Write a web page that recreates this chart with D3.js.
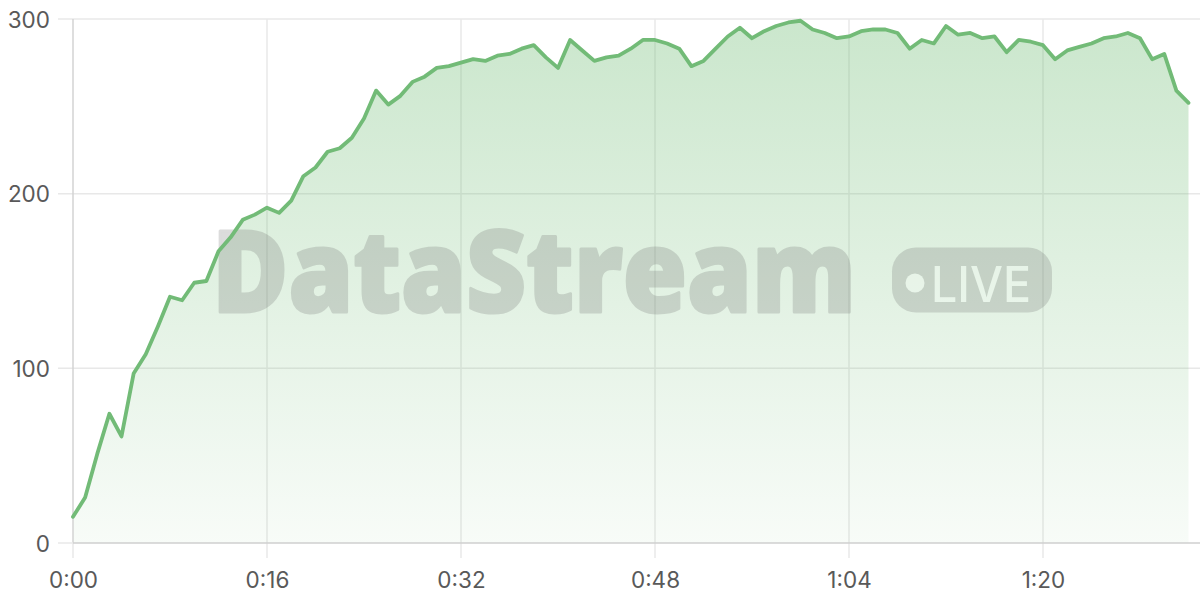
<!DOCTYPE html>
<html>
<head>
<meta charset="utf-8">
<script src="https://cdn.jsdelivr.net/npm/d3@7"></script>
<style>
  html, body { margin: 0; padding: 0; background: #ffffff; }
  svg { display: block; }
</style>
</head>
<body>
<svg id="chart" width="1200" height="600"></svg>
<script>
// ---- data ----
const seconds = d3.range(0, 93);
const values = [
  15, 26, 51, 74, 61, 97, 108, 124, 141, 139,
  149, 150, 167, 175, 185, 188, 192, 189, 196, 210,
  215, 224, 226, 232, 243, 259, 251, 256, 264, 267,
  272, 273, 275, 277, 276, 279, 280, 283, 285, 278,
  272, 288, 282, 276, 278, 279, 283, 288, 288, 286,
  283, 273, 276, 283, 290, 295, 289, 293, 296, 298,
  299, 294, 292, 289, 290, 293, 294, 294, 292, 283,
  288, 286, 296, 291, 292, 289, 290, 281, 288, 287,
  285, 277, 282, 284, 286, 289, 290, 292, 289, 277,
  280, 259, 252
];
const xTicks = [0, 16, 32, 48, 64, 80];
const xTickLabels = ["0:00", "0:16", "0:32", "0:48", "1:04", "1:20"];
const yTicks = [0, 100, 200, 300];
const yTickLabels = ["0", "100", "200", "300"];
const watermarkText = "DataStream";
const badgeText = "LIVE";

(function () {
// ---- layout ----
const W = 1200, H = 600;
const mLeft = 73, mRight = 1188.5, mTop = 19, mBottom = 543;
const data = seconds.map((s, i) => ({ s, v: values[i] }));

const x = d3.scaleLinear().domain([0, 92]).range([mLeft, mRight]);
const y = d3.scaleLinear().domain([0, 300]).range([mBottom, mTop]);

const svg = d3.select("#chart");
const font = "Inter, 'Noto Sans', sans-serif";

// gradient
const defs = svg.append("defs");
const grad = defs.append("linearGradient")
  .attr("id", "areaGrad")
  .attr("gradientUnits", "userSpaceOnUse")
  .attr("x1", 0).attr("x2", 0)
  .attr("y1", y(300)).attr("y2", y(0));
grad.append("stop").attr("offset", "0%").attr("stop-color", "#6dbb72").attr("stop-opacity", 0.36);
grad.append("stop").attr("offset", "100%").attr("stop-color", "#6dbb72").attr("stop-opacity", 0.05);

// horizontal gridlines
const gridColor = "#e8e8e8";
svg.append("g").selectAll("line").data(yTicks.filter(t => t !== 0)).join("line")
  .attr("x1", mLeft - 15).attr("x2", W)
  .attr("y1", d => y(d)).attr("y2", d => y(d))
  .attr("stroke", gridColor).attr("stroke-width", 1.5);

// vertical gridlines
svg.append("g").selectAll("line").data(xTicks.filter(t => t !== 0)).join("line")
  .attr("x1", d => x(d)).attr("x2", d => x(d))
  .attr("y1", mTop).attr("y2", mBottom + 15)
  .attr("stroke", gridColor).attr("stroke-width", 1.5);

// area
const area = d3.area().x(d => x(d.s)).y0(y(0)).y1(d => y(d.v));
svg.append("path").datum(data).attr("d", area).attr("fill", "url(#areaGrad)");

// y-axis line + its tick extension
svg.append("line").attr("x1", mLeft).attr("x2", mLeft).attr("y1", mTop).attr("y2", mBottom)
  .attr("stroke", "#d3d3d3").attr("stroke-width", 1.5);
svg.append("line").attr("x1", mLeft).attr("x2", mLeft).attr("y1", mBottom).attr("y2", mBottom + 15)
  .attr("stroke", gridColor).attr("stroke-width", 1.5);
// zero tick extension and x baseline
svg.append("line").attr("x1", mLeft - 15).attr("x2", mLeft).attr("y1", y(0)).attr("y2", y(0))
  .attr("stroke", gridColor).attr("stroke-width", 1.5);
svg.append("line").attr("x1", mLeft).attr("x2", W).attr("y1", y(0)).attr("y2", y(0))
  .attr("stroke", "#cfcfcf").attr("stroke-width", 1.5);

// watermark
const wm = svg.append("g").attr("opacity", 0.23);
wm.append("text")
  .attr("x", 212).attr("y", 312)
  .attr("font-family", "'Open Sans', sans-serif")
  .attr("font-weight", 800)
  .attr("font-size", 114)
  .attr("textLength", 644)
  .attr("lengthAdjust", "spacingAndGlyphs")
  .attr("fill", "#6a6a6a")
  .attr("stroke", "#6a6a6a")
  .attr("stroke-width", 3)
  .attr("stroke-linejoin", "round")
  .text(watermarkText);
wm.append("rect")
  .attr("x", 892).attr("y", 247.5).attr("width", 160).attr("height", 65)
  .attr("rx", 24).attr("fill", "#6a6a6a");
wm.append("circle").attr("cx", 915).attr("cy", 283).attr("r", 9.5).attr("fill", "#ffffff");
wm.append("text")
  .attr("x", 931).attr("y", 302)
  .attr("font-family", "Inter, sans-serif")
  .attr("font-weight", 500)
  .attr("font-size", 50)
  .attr("textLength", 100)
  .attr("lengthAdjust", "spacingAndGlyphs")
  .attr("fill", "#ffffff")
  .text(badgeText);

// line
const line = d3.line().x(d => x(d.s)).y(d => y(d.v));
svg.append("path").datum(data).attr("d", line)
  .attr("fill", "none").attr("stroke", "#72bb77")
  .attr("stroke-width", 3.8).attr("stroke-linejoin", "round").attr("stroke-linecap", "round");

// axes labels
const xAxis = d3.axisBottom(x).tickValues(xTicks).tickFormat((d, i) => xTickLabels[i]).tickSize(0).tickPadding(0);
const gx = svg.append("g").attr("transform", `translate(0,${mBottom})`).call(xAxis);
gx.select(".domain").remove();
gx.selectAll("text").attr("y", 45).attr("dy", 0)
  .attr("font-family", font).attr("font-size", 22.5).attr("fill", "#595959");

const yAxis = d3.axisLeft(y).tickValues(yTicks).tickFormat((d, i) => yTickLabels[i]).tickSize(0).tickPadding(0);
const gy = svg.append("g").attr("transform", `translate(${mLeft},0)`).call(yAxis);
gy.select(".domain").remove();
gy.selectAll("text").attr("x", -23).attr("dy", "0.36em")
  .attr("font-family", font).attr("font-size", 22.5).attr("fill", "#595959");
})();
</script>
</body>
</html>
